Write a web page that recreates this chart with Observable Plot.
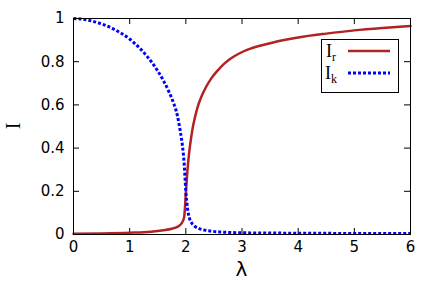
<!DOCTYPE html>
<html><head><meta charset="utf-8">
<script src="https://cdn.jsdelivr.net/npm/d3@7"></script>
<script src="https://cdn.jsdelivr.net/npm/@observablehq/plot@0.6"></script>
<style>body{margin:0;background:#fff}</style>
</head><body><div id="chart"></div>
<script>
const irX = [0, 0.5, 1, 1.38, 1.6, 1.75, 1.85, 1.92, 1.97, 2.0, 2.03, 2.06, 2.09, 2.12, 2.16, 2.21, 2.28, 2.36, 2.46, 2.57, 2.68, 2.8, 2.95, 3.1, 3.3, 3.52, 3.75, 4.0, 4.5, 5.0, 5.5, 6.0];
const irY = [0.004, 0.005, 0.008, 0.013, 0.02, 0.027, 0.035, 0.05, 0.08, 0.19, 0.30, 0.38, 0.44, 0.49, 0.54, 0.59, 0.64, 0.683, 0.725, 0.76, 0.79, 0.815, 0.838, 0.856, 0.873, 0.887, 0.90, 0.912, 0.93, 0.945, 0.956, 0.965];
const ikX = [0, 0.15, 0.3, 0.5, 0.7, 0.84, 1.0, 1.1, 1.2, 1.3, 1.4, 1.5, 1.6, 1.7, 1.78, 1.85, 1.9, 1.94, 1.97, 2.0, 2.03, 2.06, 2.1, 2.15, 2.21, 2.3, 2.41, 2.6, 3, 4, 5, 6];
const ikY = [1.0, 0.997, 0.99, 0.975, 0.953, 0.933, 0.905, 0.882, 0.857, 0.828, 0.795, 0.757, 0.713, 0.66, 0.61, 0.55, 0.48, 0.41, 0.33, 0.2, 0.12, 0.08, 0.055, 0.04, 0.03, 0.022, 0.017, 0.012, 0.008, 0.006, 0.005, 0.005];
const xTicks = [0, 1, 2, 3, 4, 5, 6];
const yTicks = [0, 0.2, 0.4, 0.6, 0.8, 1];
const yTickLabels = ["0", "0.2", "0.4", "0.6", "0.8", "1"];

const ir = irX.map((x, i) => ({x, y: irY[i]}));
const ik = ikX.map((x, i) => ({x, y: ikY[i]}));
const W = 436, H = 282, mL = 73, mR = 26, mT = 18, mB = 48;
const pw = W - mL - mR, ph = H - mT - mB;
const red = "#b22222", blue = "#0000ff";

const chart = Plot.plot({
  width: W, height: H,
  marginLeft: mL, marginRight: mR, marginTop: mT, marginBottom: mB,
  style: {fontFamily: "DejaVu Sans", background: "#fff", overflow: "visible"},
  x: {domain: [0, 6], label: null},
  y: {domain: [0, 1], label: null},
  marks: [
    Plot.axisX(xTicks, {tickSize: 0, tickPadding: 7, fontSize: 15, fill: "#000", tickFormat: d => String(d)}),
    Plot.axisY(yTicks, {tickSize: 0, tickPadding: 9, fontSize: 15, fill: "#000", tickFormat: d => yTickLabels[yTicks.indexOf(d)]}),
    Plot.tickX(xTicks, {x: d => d, insetTop: ph - 6, stroke: "#000", strokeWidth: 1}),
    Plot.tickX(xTicks, {x: d => d, insetBottom: ph - 6, stroke: "#000", strokeWidth: 1}),
    Plot.tickY(yTicks, {y: d => d, insetRight: pw - 6, stroke: "#000", strokeWidth: 1}),
    Plot.tickY(yTicks, {y: d => d, insetLeft: pw - 6, stroke: "#000", strokeWidth: 1}),
    Plot.line(ir, {x: "x", y: "y", stroke: red, strokeWidth: 2.5, curve: "monotone-x"}),
    Plot.line(ik, {x: "x", y: "y", stroke: blue, strokeWidth: 3, strokeDasharray: "3,2", strokeLinecap: "butt", curve: "monotone-x"}),
    Plot.frame({stroke: "#000", strokeWidth: 1})
  ]
});
document.getElementById("chart").appendChild(chart);

const svg = d3.select(chart);
// axis labels
svg.append("text").attr("transform", `translate(20,${mT + ph / 2}) rotate(-90)`)
  .attr("text-anchor", "middle").attr("font-family", "Liberation Serif").attr("font-size", 20).text("I");
svg.append("text").attr("x", mL + pw / 2).attr("y", 276).attr("text-anchor", "middle")
  .attr("font-family", "DejaVu Sans").attr("font-size", 20).text("λ");
// legend
const lg = svg.append("g");
lg.append("rect").attr("x", 321.5).attr("y", 39.5).attr("width", 77).attr("height", 53)
  .attr("fill", "#fff").attr("stroke", "#000").attr("stroke-width", 1);
const entries = [{name: "I", sub: "r", color: red, dash: null, w: 2.5, y: 51},
                 {name: "I", sub: "k", color: blue, dash: "3,2", w: 3, y: 73}];
for (const e of entries) {
  const t = lg.append("text").attr("x", 331).attr("y", e.y + 6).attr("font-family", "Liberation Serif").attr("font-size", 18);
  t.append("tspan").text(e.name);
  t.append("tspan").attr("font-size", 12).attr("dy", 4).text(e.sub);
  const l = lg.append("line").attr("x1", 348).attr("x2", 390).attr("y1", e.y).attr("y2", e.y)
    .attr("stroke", e.color).attr("stroke-width", e.w);
  if (e.dash) l.attr("stroke-dasharray", e.dash);
}
</script></body></html>
